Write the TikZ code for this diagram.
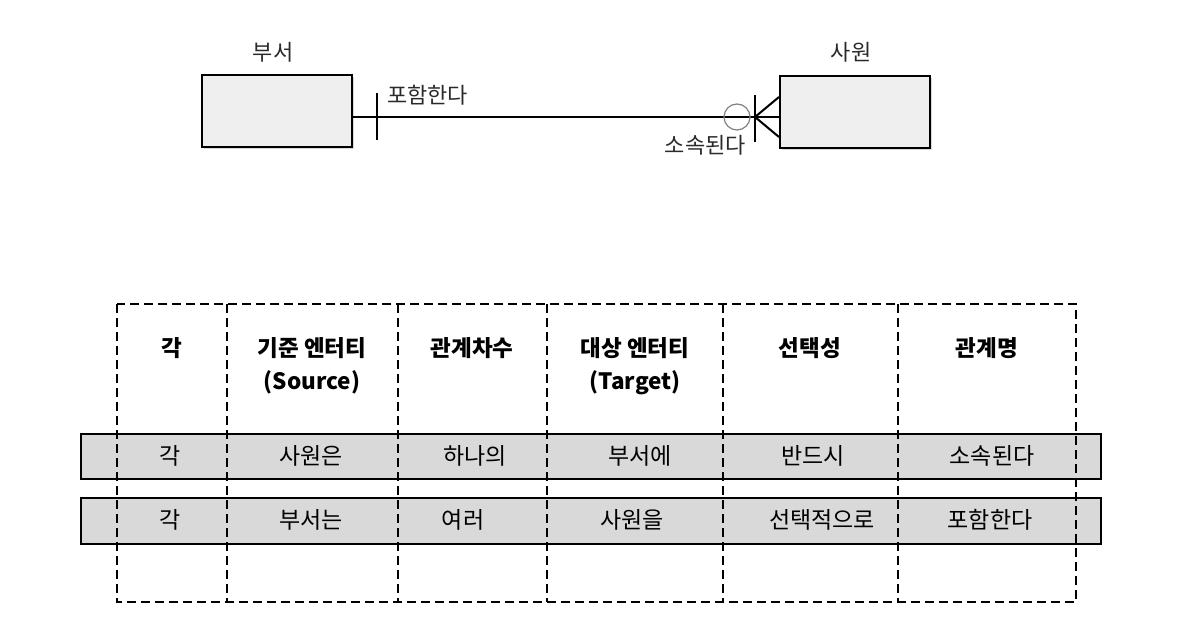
\documentclass[tikz,border=0pt]{standalone}
\usepackage{fontspec}
\setmainfont{Noto Sans CJK KR}
\usepackage{tikz}
\usetikzlibrary{positioning}
\usetikzlibrary{shadows}

\definecolor{boxfill}{HTML}{EFEFEF}
\definecolor{rowfill}{HTML}{D9D9D9}
\definecolor{erlabel}{HTML}{2A2A2A}

\tikzset{entity/.style={draw, line width=2pt, fill=boxfill, minimum width=150pt, minimum height=72pt,
  drop shadow={shadow xshift=2pt, shadow yshift=-2pt, fill=gray!60}}}
\tikzset{erlbl/.style={text=erlabel, font=\fontsize{22}{26}\selectfont, inner sep=0pt}}
\tikzset{colbox/.style={draw, line width=2pt, dash pattern=on 9pt off 5pt}}
\tikzset{rowbar/.style={draw, line width=2pt, fill=rowfill}}
\tikzset{cell/.style={font=\fontsize{23}{28}\selectfont, inner sep=0pt}}
\tikzset{head/.style={font=\bfseries\fontsize{22.5}{33}\selectfont, align=center, inner sep=0pt, anchor=north}}

\begin{document}
\begin{tikzpicture}[x=1pt,y=-1pt]
\useasboundingbox (0,0) rectangle (1187,637);
% ER diagram
\node[entity] (dept) at (277,111) {};
\node[entity] (emp) at (855,112) {};
\node[erlbl] (deptname) at (273,52) {부서};
\node[erlbl] (empname) at (851,52) {사원};
\coordinate (tick) at (377,117);
\coordinate (foot) at (755,117);
\draw[line width=2pt] (dept.east |- tick) -- (emp.west |- tick);
\draw[line width=2pt] (377,93) -- (377,140);
\draw[line width=2.5pt] (755,95) -- (755,142);
\draw[line width=2pt] (foot) -- (emp.west |- 0,97);
\draw[line width=2pt] (foot) -- (emp.west |- 0,137);
\node[draw=gray, fill=white, fill opacity=0, circle, line width=1.2pt, minimum size=26pt, inner sep=0pt] (opt) at (737,117) {};
\node[erlbl, anchor=west] (rel1) at (387,95) {포함한다};
\node[erlbl, anchor=east] (rel2) at (746,145) {소속된다};
% table rows
\draw[rowbar] (81,434) rectangle (1101,479);
\draw[rowbar] (81,498) rectangle (1101,544);
% table columns
\draw[colbox] (117,304) rectangle (1076,602);
\foreach \x in {227, 398, 547, 723, 898} {
\draw[colbox] (\x,304) -- (\x,602);
}
\node[head] (h1) at (172,337) {각};
\node[head] (h2) at (312,337) {기준 엔터티\\(Source)};
\node[head] (h3) at (472,337) {관계차수};
\node[head] (h4) at (635,337) {대상 엔터티\\(Target)};
\node[head] (h5) at (810,337) {선택성};
\node[head] (h6) at (987,337) {관계명};
\node[cell] (a1) at (170,456) {각};
\node[cell] (a2) at (311,456) {사원은};
\node[cell] (a3) at (475,456) {하나의};
\node[cell] (a4) at (640,456) {부서에};
\node[cell] (a5) at (813,456) {반드시};
\node[cell] (a6) at (992,456) {소속된다};
\node[cell] (b1) at (170,520) {각};
\node[cell] (b2) at (311,520) {부서는};
\node[cell] (b3) at (463,520) {여러};
\node[cell] (b4) at (632,520) {사원을};
\node[cell] (b5) at (822,520) {선택적으로};
\node[cell] (b6) at (990,520) {포함한다};
\end{tikzpicture}
\end{document}
